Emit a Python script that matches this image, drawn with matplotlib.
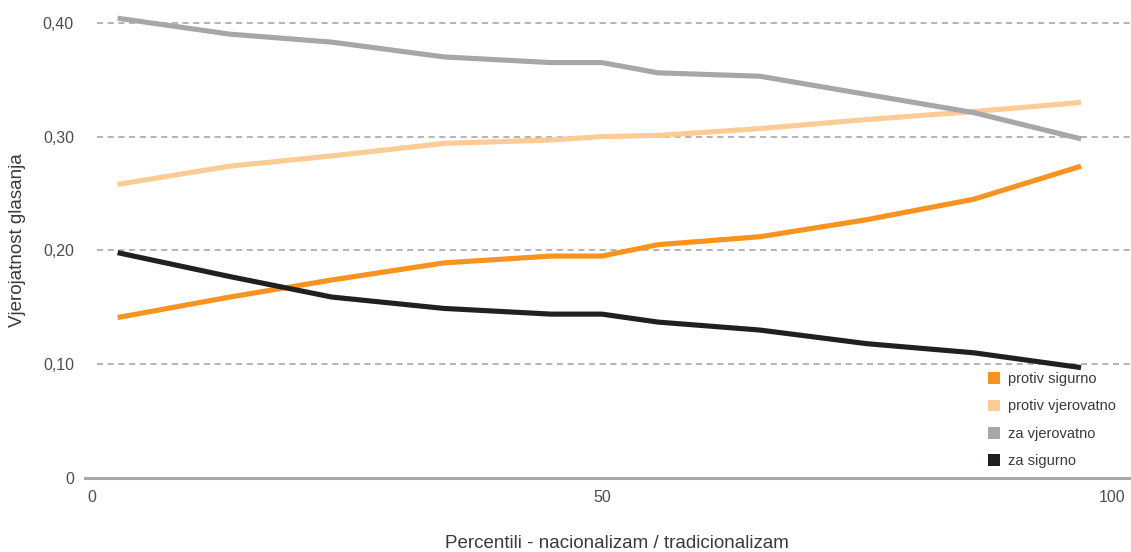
import matplotlib
matplotlib.use("Agg")
import matplotlib.pyplot as plt
from matplotlib.patches import Patch

plt.rcParams['font.family'] = ['Liberation Sans', 'DejaVu Sans']

# percentile positions (x) and probabilities per answer
percentiles = [2.5, 13.5, 23.5, 34.5, 45, 50, 55.5, 65.5, 76, 86.5, 97]
protiv_sigurno = [0.141, 0.159, 0.174, 0.189, 0.195, 0.195, 0.205, 0.212, 0.227, 0.245, 0.274]
protiv_vjerovatno = [0.258, 0.274, 0.283, 0.294, 0.297, 0.300, 0.301, 0.307, 0.315, 0.322, 0.330]
za_vjerovatno = [0.404, 0.390, 0.383, 0.370, 0.365, 0.365, 0.356, 0.353, 0.337, 0.321, 0.298]
za_sigurno = [0.198, 0.177, 0.159, 0.149, 0.144, 0.144, 0.137, 0.130, 0.118, 0.110, 0.097]

series = [
    ("protiv sigurno", protiv_sigurno, "#F7931E"),
    ("protiv vjerovatno", protiv_vjerovatno, "#FDCB95"),
    ("za vjerovatno", za_vjerovatno, "#A7A7AA"),
    ("za sigurno", za_sigurno, "#231F20"),
]

y_ticks = [0, 0.1, 0.2, 0.3, 0.4]
y_labels = ["0", "0,10", "0,20", "0,30", "0,40"]
x_ticks = [0, 50, 100]
x_labels = ["0", "50", "100"]

fig = plt.figure(figsize=(11.31, 5.52), dpi=100)
ax = fig.add_axes([85 / 1131, 74 / 552, 1 - 85 / 1131, 478 / 552])

xmin, xmax = -0.7, 101.9
ax.set_xlim(xmin, xmax)
ax.set_ylim(0, 0.42)

# dashed grid
ax.hlines(y_ticks[1:], 0.5, xmax, colors="#A0A0A0", linestyles=(0, (4, 3)), linewidth=1.1, zorder=1)
ax.axhline(0, color="#A7A7AA", linewidth=2.2, zorder=2, clip_on=False)

for name, vals, col in series:
    ax.plot(percentiles, vals, color=col, linewidth=3.7, solid_capstyle="butt", zorder=3)

for s in ax.spines.values():
    s.set_visible(False)

ax.set_yticks(y_ticks)
ax.set_yticklabels(y_labels, fontsize=11.5, color="#4D4D4D")
ax.set_xticks(x_ticks)
ax.set_xticklabels(x_labels, fontsize=11.5, color="#4D4D4D")
ax.tick_params(axis="both", length=0)
ax.tick_params(axis="x", pad=9)
ax.tick_params(axis="y", pad=8)

fig.text(18 / 1131, 1 - 240 / 552, "Vjerojatnost glasanja", rotation=90, ha="center", va="center",
         fontsize=13.5, color="#3A3A3A")
fig.text(617 / 1131, 1 - 543 / 552, "Percentili - nacionalizam / tradicionalizam", ha="center", va="center",
         fontsize=13.5, color="#3A3A3A")

handles = [Patch(facecolor=col, edgecolor="none", label=name) for name, vals, col in series]
leg = ax.legend(handles=handles, loc="upper left", bbox_to_anchor=(988 / 1131, 1 - 372 / 552),
                bbox_transform=fig.transFigure, frameon=False, fontsize=10.5, handlelength=0.85,
                handleheight=0.85, handletextpad=0.5, labelspacing=0.92, borderpad=0, borderaxespad=0)
for t in leg.get_texts():
    t.set_color("#3A3A3A")

fig.savefig("out.png", dpi=100)
